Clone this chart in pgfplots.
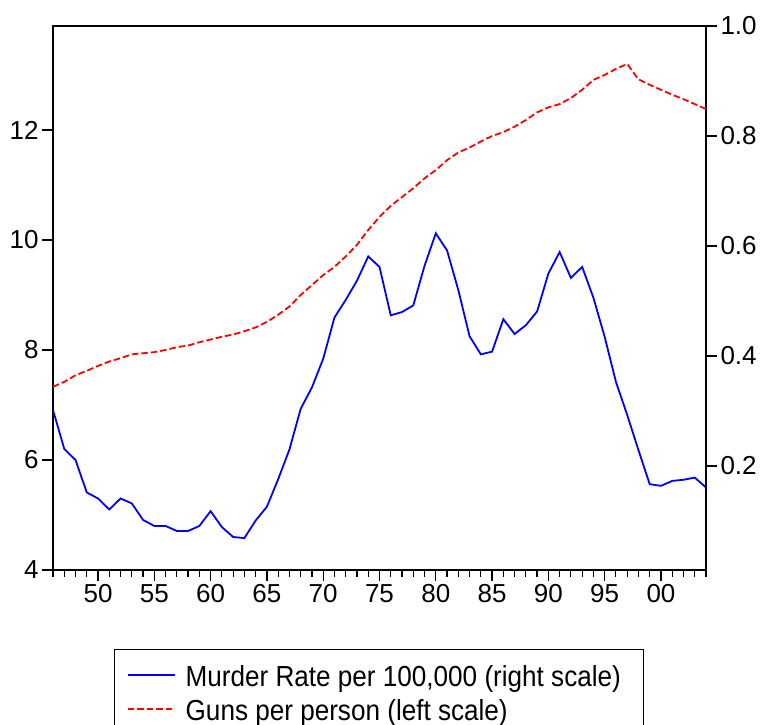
\documentclass[border=0pt]{standalone}
\usepackage{fontspec}
\setmainfont{Liberation Sans}
\usepackage{graphicx}
\usepackage{pgfplots}
\usepackage{pgfplotstable}
\pgfplotsset{compat=1.18}

% murder rate, read against the left scale
\pgfplotstableread{
year murder
1946 6.91
1947 6.20
1948 6.00
1949 5.41
1950 5.30
1951 5.10
1952 5.30
1953 5.21
1954 4.91
1955 4.80
1956 4.80
1957 4.71
1958 4.71
1959 4.80
1960 5.07
1961 4.78
1962 4.60
1963 4.58
1964 4.90
1965 5.15
1966 5.65
1967 6.19
1968 6.93
1969 7.32
1970 7.84
1971 8.59
1972 8.91
1973 9.26
1974 9.70
1975 9.51
1976 8.63
1977 8.69
1978 8.81
1979 9.53
1980 10.12
1981 9.81
1982 9.09
1983 8.25
1984 7.92
1985 7.97
1986 8.56
1987 8.29
1988 8.45
1989 8.70
1990 9.39
1991 9.78
1992 9.31
1993 9.51
1994 8.95
1995 8.24
1996 7.42
1997 6.82
1998 6.18
1999 5.56
2000 5.53
2001 5.62
2002 5.64
2003 5.68
2004 5.50
}\murder

% guns per person, read against the right scale
\pgfplotstableread{
year guns
1946 0.344
1947 0.353
1948 0.365
1949 0.373
1950 0.382
1951 0.390
1952 0.396
1953 0.403
1954 0.405
1955 0.407
1956 0.411
1957 0.416
1958 0.419
1959 0.425
1960 0.430
1961 0.435
1962 0.439
1963 0.445
1964 0.452
1965 0.462
1966 0.475
1967 0.490
1968 0.511
1969 0.529
1970 0.547
1971 0.562
1972 0.581
1973 0.602
1974 0.629
1975 0.653
1976 0.673
1977 0.689
1978 0.705
1979 0.723
1980 0.738
1981 0.756
1982 0.770
1983 0.779
1984 0.790
1985 0.800
1986 0.807
1987 0.817
1988 0.829
1989 0.843
1990 0.852
1991 0.858
1992 0.869
1993 0.884
1994 0.902
1995 0.911
1996 0.922
1997 0.931
1998 0.903
1999 0.893
2000 0.884
2001 0.875
2002 0.867
2003 0.858
2004 0.849
}\guns

\pgfplotsset{
  gunsframe/.style={
    at={(53pt,155pt)}, anchor=south west,
    scale only axis, width=653pt, height=544pt,
    xmin=1946, xmax=2004,
    tick align=outside,
    major tick length=11pt, minor tick length=7pt,
    axis line style={line width=1.6pt},
    every tick/.append style={black, line width=1.2pt},
    tick label style={font=\fontsize{26}{30}\selectfont},
    /pgf/number format/assume math mode=true,
  },
}

\begin{document}
\begin{tikzpicture}
\useasboundingbox (0,0) rectangle (764pt,725pt);

\begin{axis}[
  gunsframe,
  ymin=4, ymax=13.89,
  xtick={1950,1955,...,2000},
  xticklabels={50,55,60,65,70,75,80,85,90,95,00},
  minor xtick={1946,...,2004},
  ytick={4,6,8,10,12},
  xtick pos=bottom, ytick pos=left,
]
\addplot[draw=blue, line width=1.8pt] table[x=year, y=murder] {\murder};
\end{axis}

\begin{axis}[
  gunsframe,
  ymin=0.0109, ymax=1.0,
  hide x axis,
  axis y line*=right,
  clip=false,
  ytick={0.2,0.4,0.6,0.8,1.0},
  yticklabels={0.2,0.4,0.6,0.8,1.0},
  legend style={
    at={(axis description cs:0.0934,-0.1452)}, anchor=north west,
    draw=none, fill=none,
    font=\fontsize{29}{34}\selectfont,
    inner xsep=13pt, inner ysep=13pt,
    row sep=8pt,
    nodes={inner sep=0pt, text height=24pt, text depth=2pt},
    /tikz/every odd column/.append style={column sep=10pt},
  },
  legend cell align=left,
]
\addlegendimage{legend image code/.code={%
  \draw[blue, line width=1.5pt] (0pt,0pt) -- (47pt,0pt);}}
\addlegendentry{\scalebox{0.9}[1]{Murder Rate per 100,000 (right scale)}}
\addplot[draw=red, line width=1.8pt, dash pattern=on 6.5pt off 3pt,
  legend image code/.code={%
  \draw[red, line width=1.5pt, dash pattern=on 6.5pt off 3pt] (0pt,0pt) -- (47pt,0pt);}]
  table[x=year, y=guns] {\guns};
\addlegendentry{\scalebox{0.9}[1]{Guns per person (left scale)}}
% legend frame
\draw[line width=0.8pt] (axis description cs:0.0934,-0.1452) rectangle (axis description cs:0.9035,-0.40);
\end{axis}
\end{tikzpicture}
\end{document}
